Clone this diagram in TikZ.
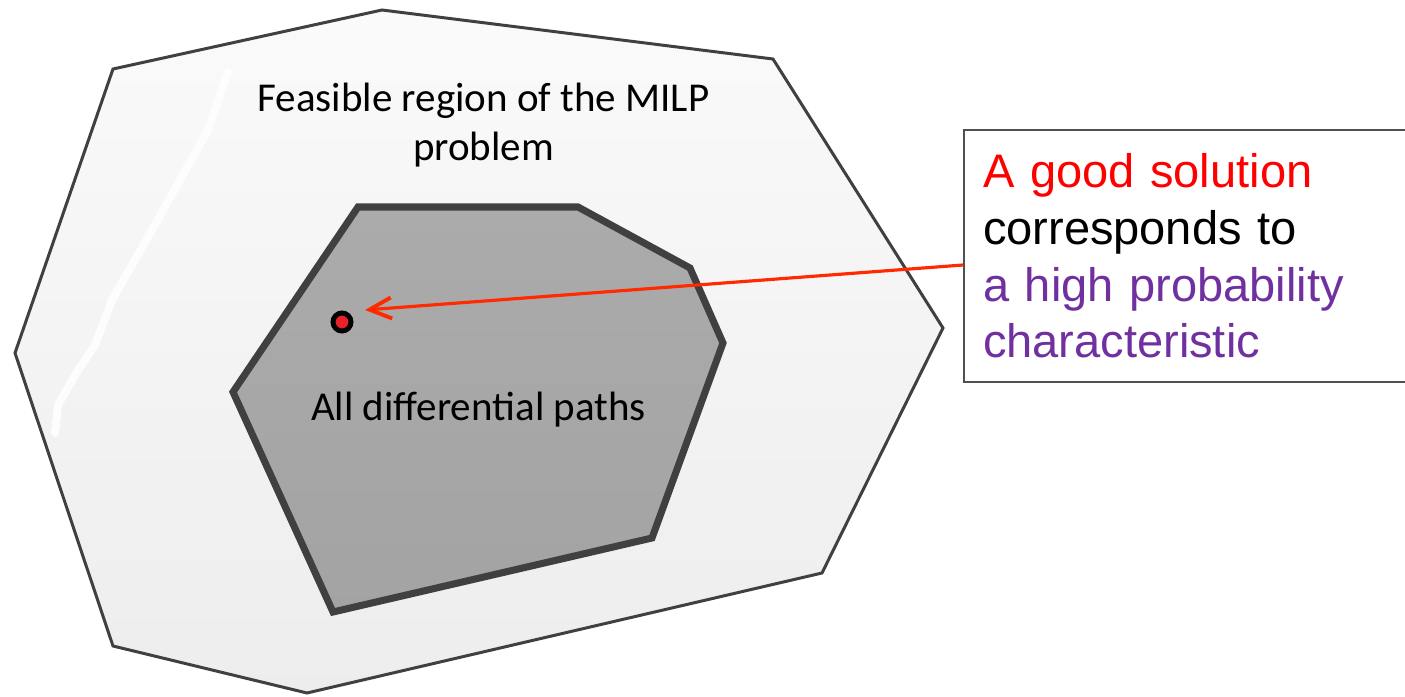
\documentclass[tikz,border=0pt]{standalone}
\usepackage{fontspec}
\setmainfont{Carlito}
\newfontfamily\arialfont{Liberation Sans}
\usetikzlibrary{arrows.meta,calc}
\definecolor{edgegray}{HTML}{404040}
\definecolor{boxgray}{HTML}{505050}
\definecolor{goodred}{HTML}{FF0000}
\definecolor{dotred}{HTML}{E8202A}
\definecolor{arrowred}{HTML}{FF2A00}
\definecolor{probpurple}{HTML}{7030A0}
\tikzset{
    outer-region/.style = {draw=edgegray, line width=0.85pt, top color=white!98!black, bottom color=white!93!black},
    inner-region/.style = {draw=edgegray, line width=2pt, top color=white!67!black, bottom color=white!64!black},
    region-label/.style = {font=\fontsize{11.66}{13.66}\selectfont, align=center, anchor=base, inner sep=0pt},
    info-box/.style = {draw=boxgray, line width=0.6pt, fill=white, anchor=west, minimum height=2.52cm, inner xsep=0.19cm, text width=4.6cm, align=left, font=\arialfont\fontsize{13.37}{16.1}\selectfont},
    path-dot/.style = {circle, draw=black, line width=1.4pt, fill=dotred, minimum size=0.18cm, inner sep=0pt},
    pointer/.style = {draw=arrowred, line width=0.9pt, -{Straight Barb[length=2.2mm,width=2.1mm,line width=1.1pt]}},
}
\begin{document}
\begin{tikzpicture}[x=0.01cm, y=-0.01cm]
\useasboundingbox (0,0) rectangle (1405,697);
\draw[outer-region] (113,69) -- (382,10) -- (773,59) -- (943,328) -- (822,573) -- (307,693) -- (113,646) -- (15,353) -- cycle;
\draw[white, opacity=0.85, line width=0.08cm, line cap=round, line join=round] (228,72) -- (208,130) -- (152,230) -- (112,300) -- (95,345) -- (75,375) -- (58,405) -- (55,433);
\draw[inner-region] (358,207) -- (578,207) -- (690,268) -- (723,343) -- (652,538) -- (333,612) -- (233,392) -- cycle;

\node[region-label] (feasible) at (483.5,160) {Feasible region of the MILP\\problem};
\node[region-label] (allpaths) at (478.5,420) {All differential paths};
\node[path-dot] (solution) at (342,322) {};

\node[info-box] (note) at (963,256) {\textcolor{goodred}{A good solution}\\
    corresponds to\\
    \textcolor{probpurple}{a high probability}\\
    \textcolor{probpurple}{characteristic}};
\draw[pointer] ($(note.west)+(0,9)$) -- ($(solution)+(23,-12)$);
\end{tikzpicture}
\end{document}
